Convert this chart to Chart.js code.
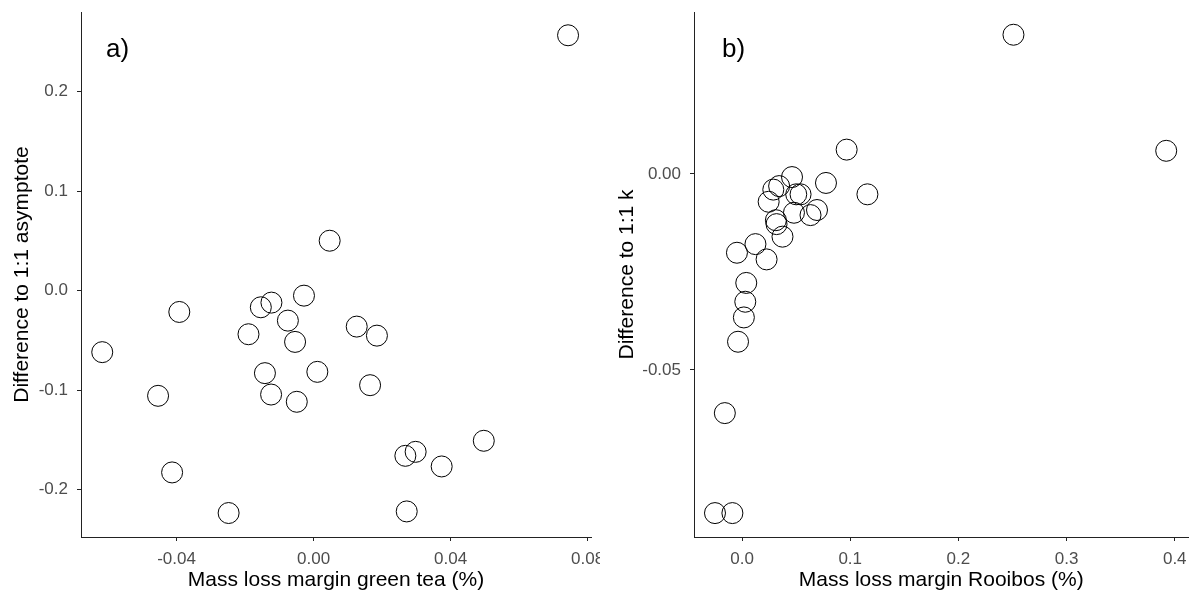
<!DOCTYPE html>
<html>
<head>
<meta charset="utf-8">
<script src="https://cdn.jsdelivr.net/npm/chart.js@4/dist/chart.umd.min.js"></script>
<style>
  html, body { margin: 0; padding: 0; background: #fff; }
  #wrap { position: relative; width: 1200px; height: 598px; overflow: hidden; }
  #chartA { position: absolute; left: 0; top: 0; }
  #chartB { position: absolute; left: 600px; top: 0; background: #fff; }
</style>
</head>
<body>
<div id="wrap">
  <canvas id="chartA" width="620" height="598"></canvas>
  <canvas id="chartB" width="600" height="598"></canvas>
</div>
<script>
// panel a: green tea vs difference to 1:1 asymptote
const greenTeaMargin = [
  0.0743, 0.0047, -0.0028, -0.0123, -0.0154, -0.0392, -0.0075, -0.0190, -0.0054,
  0.0126, 0.0185, -0.0617, -0.0142, 0.0011, 0.0165, -0.0454, -0.0124, -0.0049,
  0.0497, 0.0298, 0.0268, 0.0374, -0.0413, -0.0248, 0.0272
];
const asymptoteDiff = [
  0.2567, 0.0502, -0.0050, -0.0120, -0.0167, -0.0214, -0.0301, -0.0438, -0.0515,
  -0.0361, -0.0452, -0.0618, -0.0829, -0.0816, -0.0950, -0.1057, -0.1044, -0.1117,
  -0.1509, -0.1620, -0.1660, -0.1767, -0.1827, -0.2235, -0.2219
];

// panel b: rooibos vs difference to 1:1 k
const rooibosMargin = [
  0.2509, 0.3921, 0.0967, 0.0776, 0.1159, 0.0462, 0.0343, 0.0289, 0.0501,
  0.0541, 0.0246, 0.0480, 0.0693, 0.0633, 0.0313, 0.0319, 0.0374, -0.0047,
  0.0124, 0.0227, 0.0039, 0.0030, 0.0017, -0.0037, -0.0159, -0.0250, -0.0089
];
const kDiff = [
  0.0355, 0.0059, 0.0062, -0.0023, -0.0052, -0.0008, -0.0031, -0.0040, -0.0052,
  -0.0052, -0.0071, -0.0099, -0.0092, -0.0105, -0.0118, -0.0128, -0.0160, -0.0201,
  -0.0179, -0.0218, -0.0278, -0.0326, -0.0366, -0.0428, -0.0610, -0.0865, -0.0865
];

const aXTicks = [-0.04, 0.00, 0.04, 0.08];
const aYTicks = [-0.2, -0.1, 0.0, 0.1, 0.2];
const bXTicks = [0.0, 0.1, 0.2, 0.3, 0.4];
const bYTicks = [-0.05, 0.00];

const FONT = "'Liberation Sans', Arial, sans-serif";
const TICK_COLOR = "#4d4d4d";
const AXIS_COLOR = "#222";

const panelLabel = {
  id: "panelLabel",
  afterDraw(chart, args, opts) {
    const { ctx, chartArea } = chart;
    ctx.save();
    ctx.font = "26px " + FONT;
    ctx.fillStyle = "#000";
    ctx.textBaseline = "middle";
    ctx.fillText(opts.text, chartArea.left + opts.dx, chartArea.top + opts.dy);
    ctx.restore();
  },
};

function makeChart(el, cfg) {
  const points = cfg.xs.map((x, i) => ({ x, y: cfg.ys[i] }));
  return new Chart(el, {
    type: "scatter",
    data: {
      datasets: [{
        data: points,
        pointRadius: 10.5,
        pointHoverRadius: 10.5,
        pointBorderWidth: 1,
        borderColor: "#000",
        backgroundColor: "rgba(0,0,0,0)",
      }],
    },
    options: {
      responsive: false,
      animation: false,
      layout: { padding: { top: 12, right: cfg.padRight, left: 0, bottom: 0 } },
      plugins: {
        legend: { display: false },
        tooltip: { enabled: false },
        panelLabel: { text: cfg.label, dx: cfg.labelDx, dy: 38 },
      },
      scales: {
        x: {
          type: "linear",
          min: cfg.xMin,
          max: cfg.xMax,
          afterBuildTicks: (s) => { s.ticks = cfg.xTicks.map((v) => ({ value: v })); },
          afterFit: (s) => { s.height = 61; s.paddingLeft = 0; s.paddingRight = 0; },
          grid: { drawOnChartArea: false, drawTicks: true, tickLength: 4, color: AXIS_COLOR },
          border: { display: true, color: AXIS_COLOR, width: 1 },
          ticks: {
            color: TICK_COLOR,
            font: { family: FONT, size: 17 },
            padding: 8,
            maxRotation: 0,
            callback: (v) => Number(v).toFixed(cfg.xDigits),
          },
          title: {
            display: true,
            text: cfg.xTitle,
            color: "#000",
            font: { family: FONT, size: 21 },
            padding: { top: 0, bottom: 5 },
          },
        },
        y: {
          type: "linear",
          min: cfg.yMin,
          max: cfg.yMax,
          afterBuildTicks: (s) => { s.ticks = cfg.yTicks.map((v) => ({ value: v })); },
          afterFit: (s) => { s.width = cfg.yWidth; s.paddingTop = 0; s.paddingBottom = 0; },
          grid: { drawOnChartArea: false, drawTicks: true, tickLength: 4, color: AXIS_COLOR },
          border: { display: true, color: AXIS_COLOR, width: 1 },
          ticks: {
            color: TICK_COLOR,
            font: { family: FONT, size: 17 },
            padding: 9,
            callback: (v) => Number(v).toFixed(cfg.yDigits),
          },
          title: {
            display: true,
            text: cfg.yTitle,
            color: "#000",
            font: { family: FONT, size: 21 },
            padding: { top: cfg.yTitlePad, bottom: 0 },
          },
        },
      },
    },
    plugins: [panelLabel],
  });
}

makeChart(document.getElementById("chartA"), {
  xs: greenTeaMargin, ys: asymptoteDiff,
  xMin: -0.0679, xMax: 0.0810, yMin: -0.2476, yMax: 0.2801,
  xTicks: aXTicks, yTicks: aYTicks, xDigits: 2, yDigits: 1,
  xTitle: "Mass loss margin green tea (%)",
  yTitle: "Difference to 1:1 asymptote",
  yWidth: 81, yTitlePad: 10, padRight: 29,
  label: "a)", labelDx: 25,
});

makeChart(document.getElementById("chartB"), {
  xs: rooibosMargin, ys: kDiff,
  xMin: -0.0444, xMax: 0.4127, yMin: -0.0926, yMax: 0.0413,
  xTicks: bXTicks, yTicks: bYTicks, xDigits: 1, yDigits: 2,
  xTitle: "Mass loss margin Rooibos (%)",
  yTitle: "Difference to 1:1 k",
  yWidth: 94, yTitlePad: 15, padRight: 6,
  label: "b)", labelDx: 28,
});
</script>
</body>
</html>
